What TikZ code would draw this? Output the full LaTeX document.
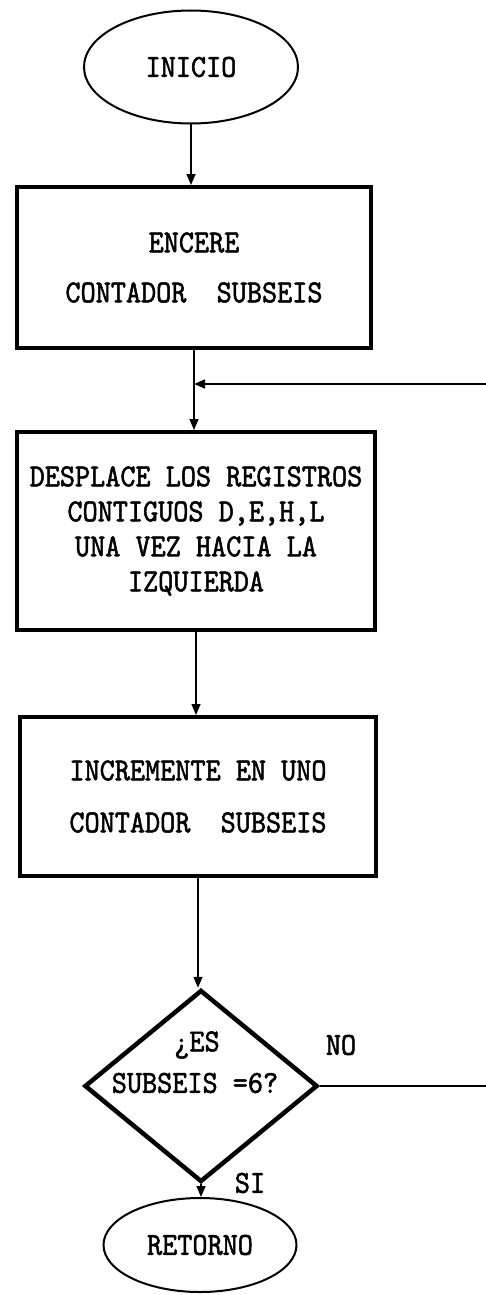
\documentclass[tikz,border=0pt]{standalone}
\usepackage{fontspec}
\newfontfamily\typw{lmmono10-regular.otf}[FakeBold=1.6,FakeStretch=0.9]
\usetikzlibrary{positioning,shapes.geometric,arrows.meta}
\tikzset{
  term/.style={ellipse,draw=black,line width=2pt,inner sep=0pt},
  procbox/.style={rectangle,draw=black,line width=4pt,inner sep=0pt,align=center},
  decide/.style={diamond,draw=black,line width=4.5pt,inner sep=0pt,
    minimum width=233pt,minimum height=192pt},
  flow/.style={draw=black,line width=1.5pt,-{Triangle[width=9pt,length=11pt]}},
  txt/.style={font=\typw\fontsize{32}{35}\selectfont},
}

\begin{document}
\begin{tikzpicture}[x=1pt,y=-1pt]
\useasboundingbox (0,0) rectangle (486,1295);
% terminals and steps
\node[term,txt,minimum width=214pt,minimum height=113pt] (inicio) at (191,67) {INICIO};
\node[procbox,txt,minimum width=354pt,minimum height=161pt] (encere) at (194,267.5)
  {ENCERE\\[15pt]CONTADOR\ \ SUBSEIS};
\node[procbox,txt,minimum width=358pt,minimum height=198pt] (desplace) at (196,531)
  {DESPLACE LOS REGISTROS\\CONTIGUOS D,E,H,L\\UNA VEZ HACIA LA\\IZQUIERDA};
\node[procbox,txt,minimum width=356pt,minimum height=159pt] (incr) at (198,796.5)
  {INCREMENTE EN UNO\\[17pt]CONTADOR\ \ SUBSEIS};
\node[decide] (dec) at (201,1086) {};
\node[txt] (decq) at (197,1045) {¿ES};
\node[txt] (decc) at (195,1083) {SUBSEIS =6?};
\node[txt] (no) at (341,1045) {NO};
\node[txt] (si) at (250,1183) {SI};
\node[term,txt,minimum width=193pt,minimum height=94pt] (retorno) at (200,1245) {RETORNO};
% loop back
\coordinate (noR) at (488,1086);
\coordinate (loopR) at (488,384);
\coordinate (join) at (encere.south |- loopR);
% connectors
\draw[flow] (inicio.south) -- (inicio.south |- encere.north);
\draw[flow] (encere.south) -- (encere.south |- desplace.north);
\draw[flow] (desplace.south) -- (desplace.south |- incr.north);
\draw[flow] (incr.south) -- (incr.south |- dec.north);
\draw[flow] (dec.south) -- (dec.south |- retorno.north);
\draw[flow] (dec.east) -- (noR) -- (loopR) -- (join);
\end{tikzpicture}
\end{document}
